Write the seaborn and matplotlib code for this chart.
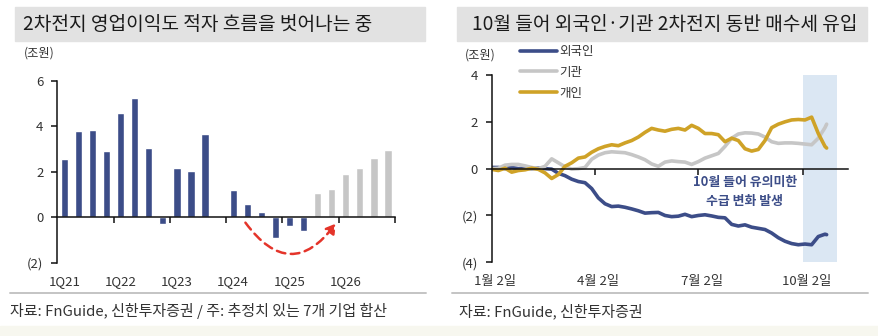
import matplotlib
matplotlib.use("Agg")
import matplotlib.pyplot as plt
import matplotlib.transforms as mtransforms
from matplotlib.path import Path
from matplotlib.patches import FancyArrowPatch, Rectangle
from matplotlib.lines import Line2D
import pandas as pd
import seaborn as sns

sns.set_theme(style="white")
plt.rcParams["font.family"] = ["Noto Sans CJK KR", "DejaVu Sans"]
plt.rcParams["axes.unicode_minus"] = False

# ---------------- data ----------------
quarters = ["1Q21", "2Q21", "3Q21", "4Q21", "1Q22", "2Q22", "3Q22", "4Q22",
            "1Q23", "2Q23", "3Q23", "4Q23", "1Q24", "2Q24", "3Q24", "4Q24",
            "1Q25", "2Q25", "3Q25", "4Q25", "1Q26", "2Q26", "3Q26", "4Q26"]
op_profit = [2.58, 3.79, 3.82, 2.89, 4.60, 5.24, 3.03, -0.28,
             2.17, 2.02, 3.65, 0.00, 1.21, 0.56, 0.21, -0.93,
             -0.38, -0.60, 1.07, 1.25, 1.89, 2.18, 2.62, 2.95]
profit_kind = ["실적"] * 18 + ["추정"] * 6
year_labels = ["1Q21", "1Q22", "1Q23", "1Q24", "1Q25", "1Q26"]

# cumulative net buying (trillion won), sampled every 4 trading days from Jan 2
trading_day = list(range(0, 201, 4)) + [201]
foreign = [0.05, 0.05, 0.00, 0.05, 0.00, 0.02, 0.00, 0.02, 0.00, -0.02,
           -0.20, -0.30, -0.45, -0.55, -0.60, -0.85, -1.25, -1.50, -1.62, -1.60,
           -1.65, -1.72, -1.80, -1.90, -1.88, -1.87, -2.00, -2.05, -2.03, -1.95,
           -2.05, -2.00, -1.97, -2.02, -2.08, -2.10, -2.38, -2.45, -2.40, -2.50,
           -2.55, -2.60, -2.75, -2.95, -3.10, -3.20, -3.25, -3.22, -3.25, -2.90,
           -2.80, -2.82]
institution = [0.00, 0.02, 0.15, 0.18, 0.18, 0.12, 0.05, 0.00, 0.10, 0.42,
               0.25, 0.08, -0.02, 0.00, 0.05, 0.40, 0.58, 0.68, 0.72, 0.70,
               0.68, 0.60, 0.50, 0.38, 0.20, 0.10, 0.28, 0.33, 0.30, 0.28,
               0.18, 0.30, 0.45, 0.55, 0.65, 0.95, 1.30, 1.48, 1.53, 1.52,
               1.48, 1.35, 1.15, 1.08, 1.10, 1.10, 1.08, 1.05, 1.02, 1.30,
               1.75, 1.90]
individual = [-0.03, -0.08, 0.02, -0.15, -0.08, -0.05, 0.02, -0.03, -0.18, -0.42,
              -0.25, 0.10, 0.25, 0.45, 0.50, 0.70, 0.85, 0.95, 1.02, 0.98,
              1.10, 1.20, 1.35, 1.55, 1.72, 1.65, 1.60, 1.68, 1.72, 1.65,
              1.85, 1.72, 1.50, 1.50, 1.45, 1.15, 1.30, 1.20, 0.85, 0.75,
              0.82, 1.20, 1.75, 1.90, 2.00, 2.08, 2.10, 2.08, 2.20, 1.50,
              0.95, 0.88]
date_ticks = [0, 62, 124, 187]
date_labels = ["1월 2일", "4월 2일", "7월 2일", "10월 2일"]
october_span = (187, 207)

NAVY = "#3c4d88"
GRAY = "#c6c6c6"
GOLD = "#cfa227"
RED = "#e4342a"
TEXT = "#333333"

W, H = 879, 336
fig = plt.figure(figsize=(W / 100, H / 100), dpi=100)


def fx(px):
    return px / W


def fy(py):
    return 1 - py / H


# ---------------- title bars, rules, sources ----------------
for x0, x1, title, tx in [(15, 425, "2차전지 영업이익도 적자 흐름을 벗어나는 중", 23),
                          (457, 867, "10월 들어 외국인·기관 2차전지 동반 매수세 유입", 472)]:
    fig.patches.append(Rectangle((fx(x0), fy(41)), fx(x1 - x0), 34 / H,
                                 transform=fig.transFigure, color="#e2e2e2", zorder=0))
    fig.text(fx(tx), fy(25), title, fontsize=13.8, fontweight="medium",
             color="#1a1a1a", va="center", ha="left")
    fig.lines.append(Line2D([fx(x0 - 5), fx(x1 + 1)], [fy(293), fy(293)],
                            transform=fig.transFigure, color="#c4c4c4", lw=1.4))

fig.patches.append(Rectangle((0, 0), 1, 10 / H, transform=fig.transFigure,
                             color="#f7f7ef", zorder=0))
fig.text(fx(10), fy(311), "자료: FnGuide, 신한투자증권 / 주: 추정치 있는 7개 기업 합산",
         fontsize=10.8, color=TEXT, va="center")
fig.text(fx(459), fy(311), "자료: FnGuide, 신한투자증권",
         fontsize=10.8, color=TEXT, va="center")
fig.text(fx(24), fy(53), "(조원)", fontsize=8.8, color=TEXT, va="center")
fig.text(fx(465), fy(55), "(조원)", fontsize=8.8, color=TEXT, va="center")

# ---------------- left: quarterly operating profit ----------------
ax1 = fig.add_axes([fx(57.3), fy(262.7), fx(395 - 57.3), (262.7 - 80.7) / H])
bars = pd.DataFrame({"quarter": quarters, "profit": op_profit, "kind": profit_kind})
sns.barplot(data=bars, x="quarter", y="profit", hue="kind", order=quarters,
            palette={"실적": NAVY, "추정": GRAY}, dodge=False, width=0.52,
            saturation=1, legend=False, ax=ax1)
ax1.set_xlim(-0.5, 23.5)
ax1.set_ylim(-2, 6)
ax1.set_xlabel("")
ax1.set_ylabel("")
for s in ["top", "right"]:
    ax1.spines[s].set_visible(False)
ax1.spines["bottom"].set_position(("data", 0))
for s in ["left", "bottom"]:
    ax1.spines[s].set_color("#111111")
    ax1.spines[s].set_linewidth(1.1)
ax1.set_yticks([-2, 0, 2, 4, 6])
ax1.set_yticklabels(["(2)", "0", "2", "4", "6"])
ax1.set_xticks([3.5, 7.5, 11.5, 15.5, 19.5, 23.5])
ax1.set_xticklabels([])
ax1.tick_params(axis="both", direction="out", length=4, width=1.1, color="#111111",
                labelsize=9.5, labelcolor=TEXT, left=True, bottom=True)
ax1.tick_params(axis="y", pad=6)
tr1 = mtransforms.blended_transform_factory(ax1.transData, ax1.transAxes)
for lab in year_labels:
    ax1.text(quarters.index(lab), -0.105, lab, transform=tr1, ha="center",
             va="center", fontsize=9.5, color=TEXT)

# dashed recovery arrow through the 2024-25 trough
curve = Path([(12.87, -0.24), (16.08, -2.93), (19.29, -0.28)],
             [Path.MOVETO, Path.CURVE3, Path.CURVE3])
ax1.add_patch(FancyArrowPatch(path=curve, arrowstyle="-|>,head_length=0.75,head_width=0.45",
                              mutation_scale=7.5, color=RED, lw=1.8,
                              linestyle=(0, (3.5, 2.2)), zorder=5))

# ---------------- right: cumulative net buying ----------------
ax2 = fig.add_axes([fx(491.7), fy(262.3), fx(848.3 - 491.7), (262.3 - 75) / H])
ax2.axvspan(*october_span, color="#dbe7f3", lw=0, zorder=0)
flows = pd.concat([
    pd.DataFrame({"day": trading_day, "value": foreign, "series": "외국인"}),
    pd.DataFrame({"day": trading_day, "value": institution, "series": "기관"}),
    pd.DataFrame({"day": trading_day, "value": individual, "series": "개인"}),
])
sns.lineplot(data=flows, x="day", y="value", hue="series",
             hue_order=["외국인", "기관", "개인"],
             palette={"외국인": NAVY, "기관": GRAY, "개인": GOLD},
             linewidth=2.6, ax=ax2)
ax2.set_xlim(0, 214)
ax2.set_ylim(-4, 4)
ax2.set_xlabel("")
ax2.set_ylabel("")
for s in ["top", "right"]:
    ax2.spines[s].set_visible(False)
ax2.spines["bottom"].set_position(("data", 0))
for s in ["left", "bottom"]:
    ax2.spines[s].set_color("#111111")
    ax2.spines[s].set_linewidth(1.1)
ax2.set_yticks([-4, -2, 0, 2, 4])
ax2.set_yticklabels(["(4)", "(2)", "0", "2", "4"])
ax2.set_xticks(date_ticks[1:])
ax2.set_xticklabels([])
ax2.tick_params(axis="both", direction="out", length=4, width=1.1, color="#111111",
                labelsize=9.5, labelcolor=TEXT, left=True, bottom=True)
ax2.tick_params(axis="y", pad=6)
tr2 = mtransforms.blended_transform_factory(ax2.transData, ax2.transAxes)
for d, lab in zip(date_ticks, date_labels):
    ax2.text(d + 2, -0.104, lab, transform=tr2, ha="center", va="center",
             fontsize=9.5, color=TEXT)

ax2.text(152, -0.57, "10월 들어 유의미한", ha="center", va="center",
         fontsize=9.3, fontweight="bold", color=NAVY)
ax2.text(152, -1.37, "수급 변화 발생", ha="center", va="center",
         fontsize=9.3, fontweight="bold", color=NAVY)

sns.move_legend(ax2, "upper left", bbox_to_anchor=(0.079, 1.16), frameon=False,
                title=None, fontsize=9, handlelength=3.0, handletextpad=0.15,
                labelspacing=0.62, borderpad=0, borderaxespad=0)
for t in ax2.get_legend().get_texts():
    t.set_color(TEXT)

fig.savefig("out.png", dpi=100)
